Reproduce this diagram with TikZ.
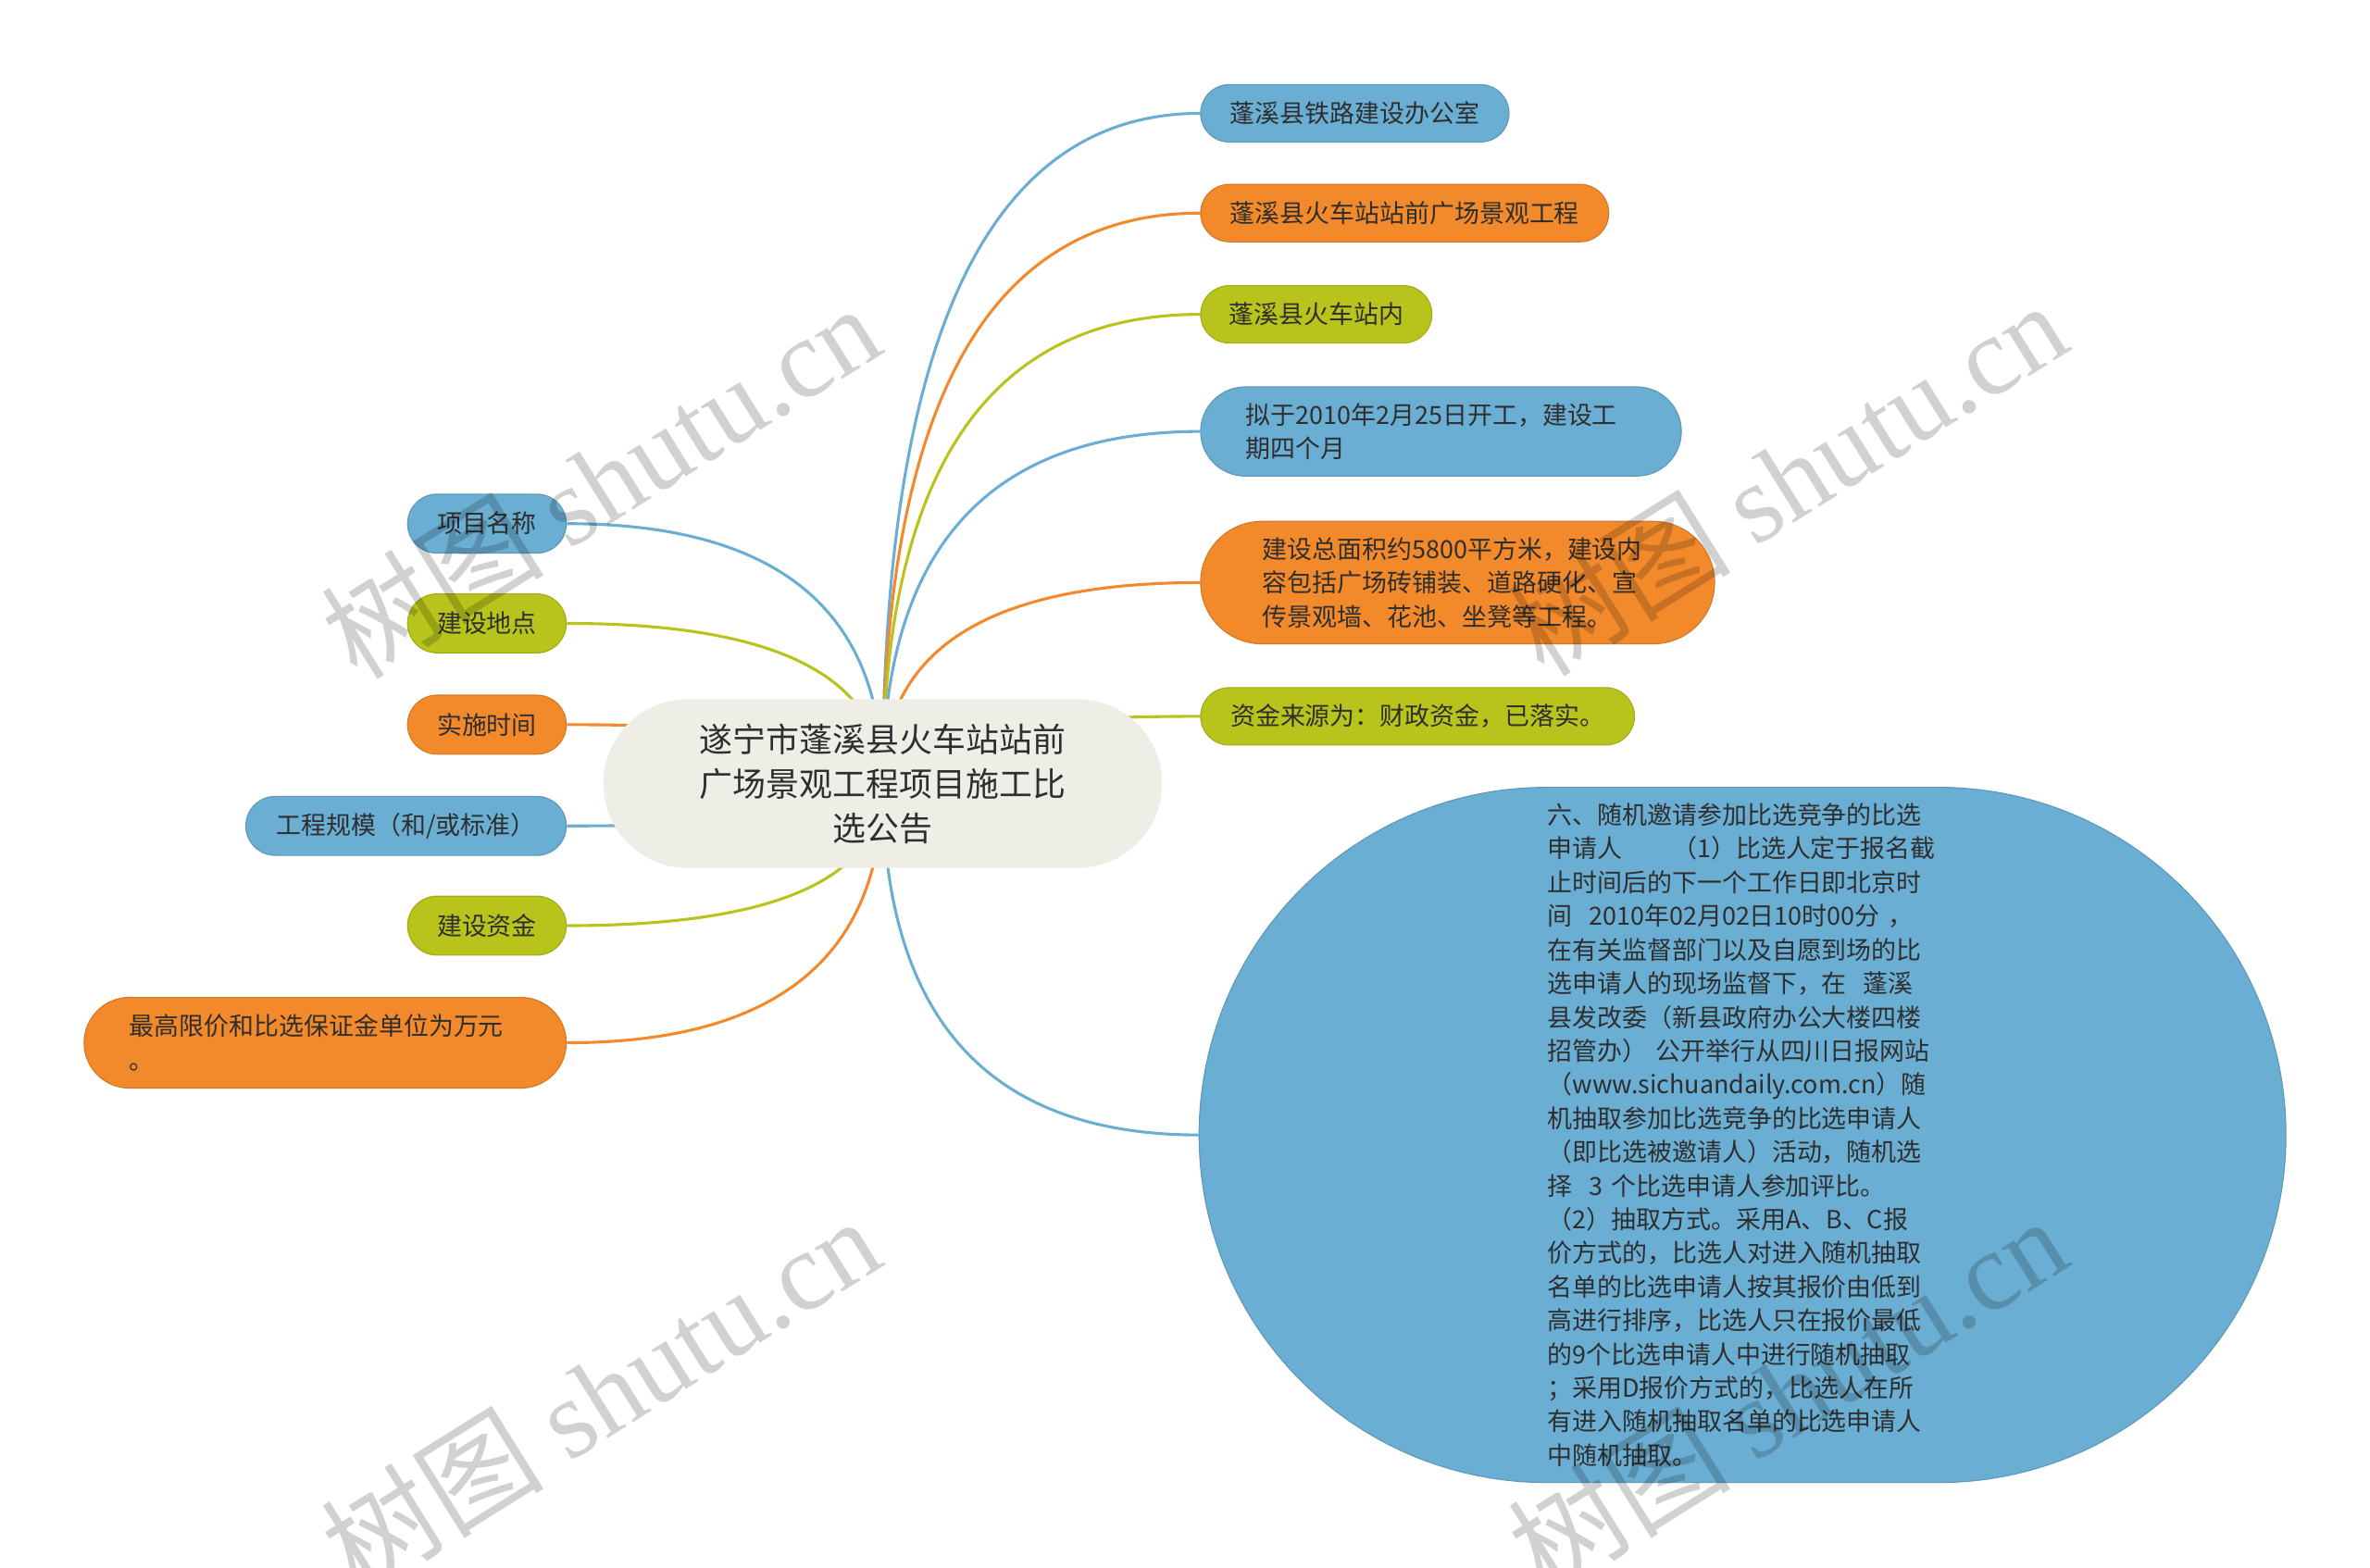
\documentclass[tikz,border=0pt]{standalone}
\usepackage{fontspec}
\setmainfont{Noto Sans CJK SC}
\newfontfamily\wmlatin{Liberation Serif}
\usetikzlibrary{calc,backgrounds}
\definecolor{mblue}{HTML}{6BAED3}
\definecolor{morange}{HTML}{F28A2C}
\definecolor{mgreen}{HTML}{B8C41C}
\definecolor{mroot}{HTML}{EFEEE6}
\definecolor{mtxt}{HTML}{2E2E2E}
\newcommand\mmconn[2]{\draw[conn,#1] (c.center) .. controls ($(c.center)!0.6667!(c.center|-#2)$) and ($(#2)!0.6667!(c.center|-#2)$) .. (#2);}
\begin{document}
\begin{tikzpicture}[x=1pt,y=-1pt,
  conn/.style={line width=1.9pt},
  box/.style={inner sep=0pt, text=mtxt, line width=0.7pt},
  leaf/.style={box, font=\fontsize{16.5}{22.3}\selectfont, fill=#1, draw=#1!88!black},
  wm/.style={rotate=32, opacity=0.18, text=black, font=\fontsize{74}{80}\selectfont},
]
\useasboundingbox (0,0) rectangle (1568,1037);

% root
\node[box, fill=mroot, draw=mroot, rounded corners=55.5pt, minimum width=369pt, minimum height=111pt, align=center, font=\fontsize{22}{29.5}\selectfont] (c) at (584,518.5) {遂宁市蓬溪县火车站站前\\广场景观工程项目施工比\\选公告};

% left nodes
\node[leaf=mblue, rounded corners=19.5pt, minimum width=105pt, minimum height=39pt, anchor=east] (l1) at (375,346.5) {项目名称};
\node[leaf=mgreen, rounded corners=19.5pt, minimum width=105pt, minimum height=39pt, anchor=east] (l2) at (375,412.5) {建设地点};
\node[leaf=morange, rounded corners=19.5pt, minimum width=105pt, minimum height=39pt, anchor=east] (l3) at (375,479.5) {实施时间};
\node[leaf=mblue, rounded corners=19.5pt, minimum width=212pt, minimum height=39pt, anchor=east] (l4) at (375,546.5) {工程规模（和/或标准）};
\node[leaf=mgreen, rounded corners=19.5pt, minimum width=105pt, minimum height=39pt, anchor=east] (l5) at (375,612.5) {建设资金};
\node[leaf=morange, rounded corners=30pt, minimum width=319pt, minimum height=60pt, text width=259pt, align=left, anchor=east] (l6) at (375,690) {最高限价和比选保证金单位为万元\\。};

% right nodes
\node[leaf=mblue, rounded corners=19pt, minimum width=204pt, minimum height=38pt, anchor=west] (r1) at (794,75) {蓬溪县铁路建设办公室};
\node[leaf=morange, rounded corners=19pt, minimum width=270pt, minimum height=38pt, anchor=west] (r2) at (794,141) {蓬溪县火车站站前广场景观工程};
\node[leaf=mgreen, rounded corners=19pt, minimum width=153pt, minimum height=38pt, anchor=west] (r3) at (794,208) {蓬溪县火车站内};
\node[leaf=mblue, rounded corners=29.5pt, minimum width=318pt, minimum height=59pt, text width=258pt, align=left, anchor=west] (r4) at (794,285.5) {拟于2010年2月25日开工，建设工\\期四个月};
\node[leaf=morange, rounded corners=40.5pt, minimum width=340pt, minimum height=81pt, text width=258pt, align=left, anchor=west] (r5) at (794,385.5) {建设总面积约5800平方米，建设内\\容包括广场砖铺装、道路硬化、宣\\传景观墙、花池、坐凳等工程。};
\node[leaf=mgreen, rounded corners=19pt, minimum width=287pt, minimum height=38pt, anchor=west] (r6) at (794,474) {资金来源为：财政资金，已落实。};
\node[leaf=mblue, rounded corners=230pt, minimum width=719pt, minimum height=460pt, text width=258pt, align=left, anchor=west] (r7) at (793,751) {六、随机邀请参加比选竞争的比选\\
申请人\hspace{2em}（1）比选人定于报名截\\
止时间后的下一个工作日即北京时\\
间\ \ 2010年02月02日10时00分\ ，\\
在有关监督部门以及自愿到场的比\\
选申请人的现场监督下，在\ \ 蓬溪\\
县发改委（新县政府办公大楼四楼\\
招管办）\ 公开举行从四川日报网站\\
（www.sichuandaily.com.cn）随\\
机抽取参加比选竞争的比选申请人\\
（即比选被邀请人）活动，随机选\\
择\ \ 3 个比选申请人参加评比。\\
（2）抽取方式。采用A、B、C报\\
价方式的，比选人对进入随机抽取\\
名单的比选申请人按其报价由低到\\
高进行排序，比选人只在报价最低\\
的9个比选申请人中进行随机抽取\\
；采用D报价方式的，比选人在所\\
有进入随机抽取名单的比选申请人\\
中随机抽取。};

% connectors
\begin{scope}[on background layer]
\mmconn{mblue}{l1.east}
\mmconn{mgreen}{l2.east}
\mmconn{morange}{l3.east}
\mmconn{mblue}{l4.east}
\mmconn{mgreen}{l5.east}
\mmconn{morange}{l6.east}
\mmconn{mblue}{r1.west}
\mmconn{morange}{r2.west}
\mmconn{mgreen}{r3.west}
\mmconn{mblue}{r4.west}
\mmconn{morange}{r5.west}
\mmconn{mgreen}{r6.west}
\mmconn{mblue}{r7.west}
\end{scope}

% watermarks
\node[wm] (wm1) at (397,318) {树图 {\wmlatin shutu.cn}};
\node[wm] (wm2) at (1182,316) {树图 {\wmlatin shutu.cn}};
\node[wm] (wm3) at (397,922) {树图 {\wmlatin shutu.cn}};
\node[wm] (wm4) at (1182,922) {树图 {\wmlatin shutu.cn}};
\end{tikzpicture}
\end{document}
